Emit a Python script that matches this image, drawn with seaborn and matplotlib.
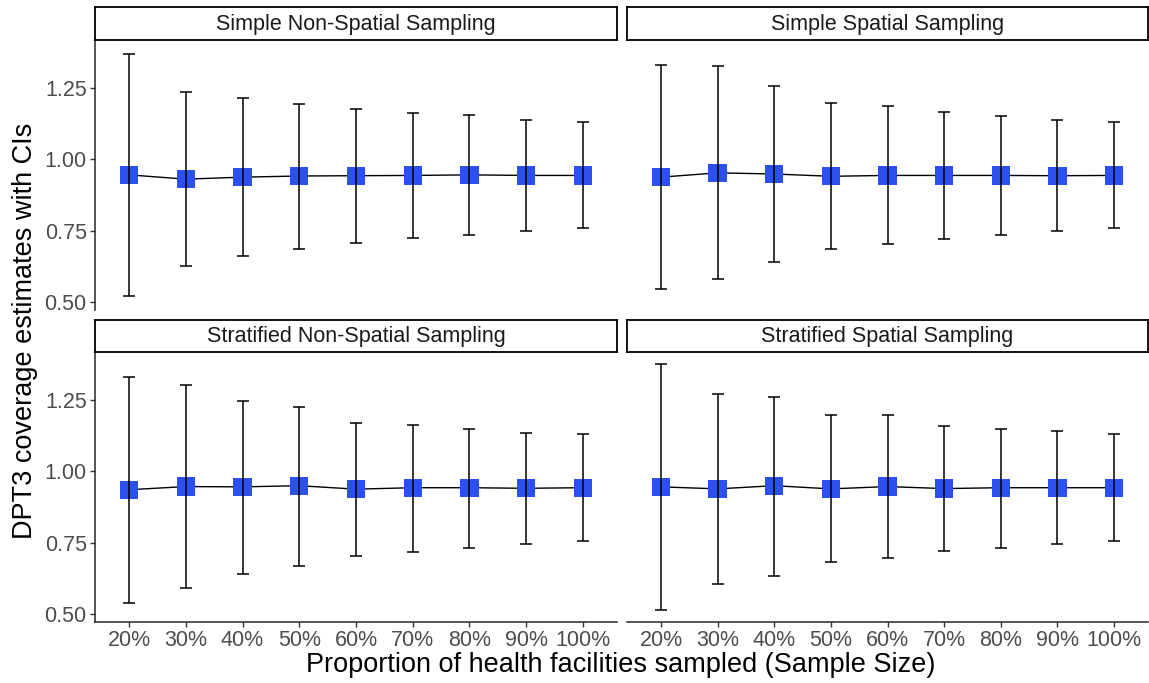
import numpy as np
import pandas as pd
import matplotlib
matplotlib.use("Agg")
import matplotlib.pyplot as plt
import seaborn as sns

# Proportion of facilities sampled (x categories)
sample_pct = ["20%", "30%", "40%", "50%", "60%", "70%", "80%", "90%", "100%"]

designs = [
    "Simple Non-Spatial Sampling",
    "Simple Spatial Sampling",
    "Stratified Non-Spatial Sampling",
    "Stratified Spatial Sampling",
]

# DPT3 coverage point estimates and 95% CI bounds per design
simple_nonspatial_est = [0.945, 0.930, 0.937, 0.941, 0.942, 0.943, 0.945, 0.943, 0.943]
simple_nonspatial_lo = [0.522, 0.627, 0.660, 0.687, 0.708, 0.723, 0.735, 0.748, 0.758]
simple_nonspatial_hi = [1.368, 1.234, 1.212, 1.192, 1.174, 1.162, 1.154, 1.137, 1.129]

simple_spatial_est = [0.937, 0.952, 0.948, 0.940, 0.943, 0.943, 0.943, 0.942, 0.943]
simple_spatial_lo = [0.545, 0.580, 0.640, 0.686, 0.704, 0.722, 0.736, 0.750, 0.758]
simple_spatial_hi = [1.330, 1.325, 1.256, 1.195, 1.184, 1.166, 1.152, 1.137, 1.130]

strat_nonspatial_est = [0.935, 0.946, 0.945, 0.949, 0.937, 0.942, 0.942, 0.940, 0.942]
strat_nonspatial_lo = [0.539, 0.592, 0.642, 0.669, 0.705, 0.719, 0.733, 0.746, 0.755]
strat_nonspatial_hi = [1.329, 1.299, 1.246, 1.225, 1.167, 1.162, 1.148, 1.133, 1.128]

strat_spatial_est = [0.945, 0.938, 0.949, 0.938, 0.946, 0.939, 0.942, 0.942, 0.942]
strat_spatial_lo = [0.516, 0.607, 0.635, 0.683, 0.695, 0.720, 0.733, 0.745, 0.755]
strat_spatial_hi = [1.373, 1.270, 1.259, 1.195, 1.195, 1.159, 1.148, 1.139, 1.128]

y_ticks = [0.50, 0.75, 1.00, 1.25]

series = {
    designs[0]: (simple_nonspatial_est, simple_nonspatial_lo, simple_nonspatial_hi),
    designs[1]: (simple_spatial_est, simple_spatial_lo, simple_spatial_hi),
    designs[2]: (strat_nonspatial_est, strat_nonspatial_lo, strat_nonspatial_hi),
    designs[3]: (strat_spatial_est, strat_spatial_lo, strat_spatial_hi),
}
rows = []
for d, (est, lo, hi) in series.items():
    for p, e, l, h in zip(sample_pct, est, lo, hi):
        rows.append({"design": d, "pct": p, "est": e, "lo": l, "hi": h})
df = pd.DataFrame(rows)

sns.set_theme(style="ticks")
plt.rcParams["font.family"] = ["Liberation Sans", "DejaVu Sans"]

W, H = 1149, 683
fig = plt.figure(figsize=(W / 100, H / 100), dpi=100)
fig.patch.set_facecolor("white")

BLUE = "#2B50EE"
TICK_GREY = "#4D4D4D"

# shared y range with 5% padding
ymin, ymax = df["lo"].min(), df["hi"].max()
pad = (ymax - ymin) * 0.05
ylim = (ymin - pad, ymax + pad)

# panel layout in pixels: (left, right, strip_top, panel_top, panel_bottom)
cols = [(95, 617), (627, 1148)]
rows_px = [(7, 40, 310), (320, 352, 622)]


def frac_rect(x0, x1, ytop, ybot):
    return [x0 / W, 1 - ybot / H, (x1 - x0) / W, (ybot - ytop) / H]


x_pos = np.arange(len(sample_pct))
for i, d in enumerate(designs):
    r, c = divmod(i, 2)
    x0, x1 = cols[c]
    st, pt, pb = rows_px[r]

    ax = fig.add_axes(frac_rect(x0, x1, pt, pb))
    sub = df[df["design"] == d].set_index("pct").loc[sample_pct].reset_index()

    sns.lineplot(data=sub, x="pct", y="est", color="black", lw=1.0,
                 sort=False, ax=ax, zorder=2)
    sns.scatterplot(data=sub, x="pct", y="est", marker="s", s=175,
                    color=BLUE, edgecolor="none", ax=ax, zorder=3)
    ax.errorbar(sub["pct"], sub["est"],
                yerr=[sub["est"] - sub["lo"], sub["hi"] - sub["est"]],
                fmt="none", ecolor="black", elinewidth=1.1,
                capsize=4.0, capthick=1.1, zorder=4)

    ax.set_xlim(-0.6, len(sample_pct) - 1 + 0.6)
    ax.set_ylim(*ylim)
    ax.set_xlabel("")
    ax.set_ylabel("")
    for s in ["top", "right"]:
        ax.spines[s].set_visible(False)
    ax.spines["left"].set_linewidth(1.1)
    ax.spines["bottom"].set_linewidth(1.1)

    ax.set_yticks(y_ticks)
    ax.set_yticklabels([f"{v:.2f}" for v in y_ticks])
    ax.tick_params(axis="both", length=3.5, width=1.0, color="#333333",
                   labelsize=15.5, labelcolor=TICK_GREY, pad=2.5)
    if c == 1:
        ax.spines["left"].set_visible(False)
        ax.tick_params(axis="y", left=False, labelleft=False)
    if r == 0:
        ax.spines["bottom"].set_visible(False)
        ax.tick_params(axis="x", bottom=False, labelbottom=False)
    ax.set_facecolor("white")

    # facet strip
    sax = fig.add_axes(frac_rect(x0, x1, st, pt))
    sax.set_xticks([])
    sax.set_yticks([])
    for s in sax.spines.values():
        s.set_visible(True)
        s.set_linewidth(1.3)
        s.set_color("black")
    sax.set_facecolor("white")
    sax.text(0.5, 0.47, d, ha="center", va="center", fontsize=15.5,
             color="#1A1A1A", transform=sax.transAxes)

fig.text(621 / W, 1 - 665 / H,
         "Proportion of health facilities sampled (Sample Size)",
         ha="center", va="center", fontsize=19.5, color="black")
fig.text(25 / W, 1 - 331 / H, "DPT3 coverage estimates with CIs",
         ha="center", va="center", rotation=90, fontsize=19.5, color="black")

fig.savefig("out.png", dpi=100, facecolor="white")
